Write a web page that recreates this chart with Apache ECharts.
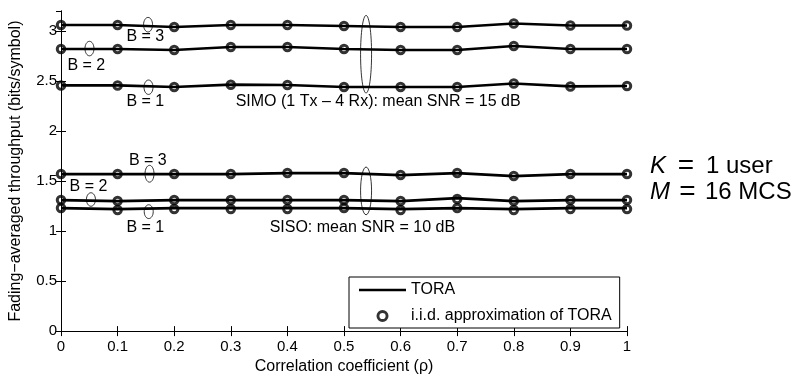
<!DOCTYPE html>
<html><head><meta charset="utf-8">
<script src="https://cdn.jsdelivr.net/npm/echarts@6/dist/echarts.min.js"></script>
<style>html,body{margin:0;padding:0;background:#fff}#c{width:806px;height:380px}</style>
</head><body><div id="c"></div>
<script>
var rho = [0, 0.1, 0.2, 0.3, 0.4, 0.5, 0.6, 0.7, 0.8, 0.9, 1];
var xTicks = ['0','0.1','0.2','0.3','0.4','0.5','0.6','0.7','0.8','0.9','1'];
var simoB3 = [3.06, 3.06, 3.04, 3.06, 3.06, 3.05, 3.04, 3.04, 3.075, 3.055, 3.055];
var simoB2 = [2.82, 2.82, 2.81, 2.84, 2.84, 2.82, 2.81, 2.81, 2.85, 2.82, 2.82];
var simoB1 = [2.456, 2.456, 2.44, 2.463, 2.46, 2.44, 2.44, 2.44, 2.475, 2.447, 2.45];
var sisoB3 = [1.57, 1.57, 1.57, 1.57, 1.58, 1.58, 1.56, 1.58, 1.55, 1.57, 1.57];
var sisoB2 = [1.31, 1.30, 1.31, 1.31, 1.31, 1.31, 1.30, 1.33, 1.30, 1.31, 1.31];
var sisoB1 = [1.23, 1.22, 1.23, 1.23, 1.23, 1.23, 1.22, 1.23, 1.22, 1.23, 1.23];
var iidSimoB3 = [3.06, 3.06, 3.04, 3.06, 3.06, 3.05, 3.04, 3.04, 3.075, 3.055, 3.055];
var iidSimoB2 = [2.82, 2.82, 2.81, 2.84, 2.84, 2.82, 2.81, 2.81, 2.85, 2.82, 2.82];
var iidSimoB1 = [2.456, 2.456, 2.44, 2.463, 2.46, 2.44, 2.44, 2.44, 2.475, 2.445, 2.45];
var iidSisoB3 = [1.57, 1.57, 1.57, 1.57, 1.58, 1.58, 1.56, 1.58, 1.55, 1.57, 1.57];
var iidSisoB2 = [1.31, 1.30, 1.31, 1.31, 1.31, 1.31, 1.30, 1.32, 1.30, 1.31, 1.31];
var iidSisoB1 = [1.23, 1.21, 1.22, 1.22, 1.22, 1.23, 1.21, 1.23, 1.21, 1.22, 1.22];
var yTicks = [0, 0.5, 1, 1.5, 2, 2.5, 3];
// annotation ellipses: [x centre, y low, y high]
var ellSmall = [[0.1538, 2.99, 3.136], [0.0503, 2.752, 2.897], [0.1546, 2.366, 2.51],
                [0.1564, 1.489, 1.657], [0.0529, 1.248, 1.383], [0.155, 1.125, 1.263]];
var ellBig = [[0.539, 2.38, 3.156], [0.539, 1.163, 1.64]];
// annotation texts: [x, y, text, align]
var notes = [[0.149, 2.946, 'B = 3', 'center'], [0.0447, 2.651, 'B = 2', 'center'], [0.149, 2.293, 'B = 1', 'center'],
             [0.3086, 2.293, 'SIMO (1 Tx \u2013 4 Rx): mean SNR = 15 dB', 'left'],
             [0.1534, 1.702, 'B = 3', 'center'], [0.0485, 1.447, 'B = 2', 'center'], [0.149, 1.033, 'B = 1', 'center'],
             [0.3686, 1.033, 'SISO: mean SNR = 10 dB', 'left']];

var FONT = '"Liberation Sans", Arial, Helvetica, sans-serif';
function pairs(a){ return rho.map(function(x,i){ return [x, a[i]]; }); }
var toraSets = [simoB3, simoB2, simoB1, sisoB3, sisoB2, sisoB1];
var iidSets = [iidSimoB3, iidSimoB2, iidSimoB1, iidSisoB3, iidSisoB2, iidSisoB1];
var series = [];
toraSets.forEach(function(s){
  series.push({name:'TORA', type:'line', data:pairs(s), symbol:'none', lineStyle:{color:'#000', width:2.7}, itemStyle:{color:'#000'}, z:3, animation:false});
});
iidSets.forEach(function(s){
  series.push({name:'i.i.d. approximation of TORA', type:'scatter', data:pairs(s), symbol:'circle', symbolSize:7.5,
    itemStyle:{color:'rgba(0,0,0,0)', borderColor:'#000', borderWidth:3}, z:4, animation:false});
});

var chart = echarts.init(document.getElementById('c'), null, {renderer:'canvas'});
var axisCommon = {axisLine:{lineStyle:{color:'#000', width:1}}, splitLine:{show:false}};
chart.setOption({
  animation:false,
  textStyle:{fontFamily:FONT},
  grid:{left:60, right:179, top:11, bottom:39, containLabel:false},
  xAxis:[
    Object.assign({type:'value', min:0, max:1, interval:0.1, position:'bottom',
      name:'Correlation coefficient (\u03c1)', nameLocation:'middle', nameGap:23,
      nameTextStyle:{color:'#000', fontSize:16, fontFamily:FONT},
      axisTick:{inside:true, length:5, lineStyle:{color:'#000'}},
      axisLabel:{color:'#000', fontSize:15, fontFamily:FONT, margin:8, formatter:function(v){ var i=Math.round(v*10); return xTicks[i]; }}}, axisCommon),
    Object.assign({type:'value', min:0, max:1, interval:0.1, position:'top',
      axisTick:{inside:true, length:5, lineStyle:{color:'#000'}}, axisLabel:{show:false}}, axisCommon)
  ],
  yAxis:[
    Object.assign({type:'value', min:0, max:3.2, interval:0.5, position:'left',
      name:'Fading\u2212averaged throughput (bits/symbol)', nameLocation:'middle', nameGap:37,
      nameTextStyle:{color:'#000', fontSize:16, fontFamily:FONT},
      axisTick:{inside:true, length:5, lineStyle:{color:'#000'}},
      axisLabel:{color:'#000', fontSize:15, fontFamily:FONT, margin:4, showMaxLabel:false,
        formatter:function(v){ var i=yTicks.indexOf(Math.round(v*10)/10); return i>=0 ? String(yTicks[i]) : ''; }}}, axisCommon),
    Object.assign({type:'value', min:0, max:3.2, interval:0.5, position:'right',
      axisTick:{inside:true, length:5, lineStyle:{color:'#000'}}, axisLabel:{show:false}}, axisCommon)
  ],
  legend:{orient:'vertical', left:349, top:277, width:260, backgroundColor:'#fff', borderColor:'#000', borderWidth:1,
    padding:[5, 8, 4, 10], itemWidth:47, itemHeight:12, itemGap:10,
    textStyle:{color:'#000', fontSize:16, fontFamily:FONT},
    data:[{name:'TORA', icon:'path://M0,0L47,0L47,2.7L0,2.7Z'},
          {name:'i.i.d. approximation of TORA', icon:'path://M5,0A5,5 0 1 1 4.99,0ZM5,2.4A2.6,2.6 0 1 0 5.01,2.4Z',
           itemStyle:{color:'#000', borderWidth:0}}]},
  series:series
});

var g = [];
ellSmall.concat(ellBig).forEach(function(e, k){
  var lo = chart.convertToPixel({gridIndex:0}, [e[0], e[1]]);
  var hi = chart.convertToPixel({gridIndex:0}, [e[0], e[2]]);
  var w = k < ellSmall.length ? 4.5 : 5.5;
  g.push({type:'ellipse', shape:{cx:lo[0], cy:(lo[1]+hi[1])/2, rx:w, ry:(lo[1]-hi[1])/2},
    style:{fill:null, stroke:'#000', lineWidth:0.8}, z:10});
});
notes.forEach(function(n){
  var p = chart.convertToPixel({gridIndex:0}, [n[0], n[1]]);
  g.push({type:'text', x:p[0], y:p[1], style:{text:n[2], fill:'#000', font:'16px ' + FONT, align:n[3], verticalAlign:'middle'}, z:10});
});
function richSide(eqW){
  return {i:{fontStyle:'italic', fontSize:24, fontFamily:FONT, fill:'#000'},
          e:{fontSize:28, fontFamily:FONT, fill:'#000', width:eqW, align:'center'},
          n:{fontSize:24, fontFamily:FONT, fill:'#000'}};
}
g.push({type:'text', left:650, top:152, style:{rich:richSide(40), text:'{i|K}{e|=}{n|1 user}'}, z:10});
g.push({type:'text', left:650, top:178, style:{rich:richSide(35), text:'{i|M}{e|=}{n|16 MCS}'}, z:10});
chart.setOption({graphic:g});
</script></body></html>
